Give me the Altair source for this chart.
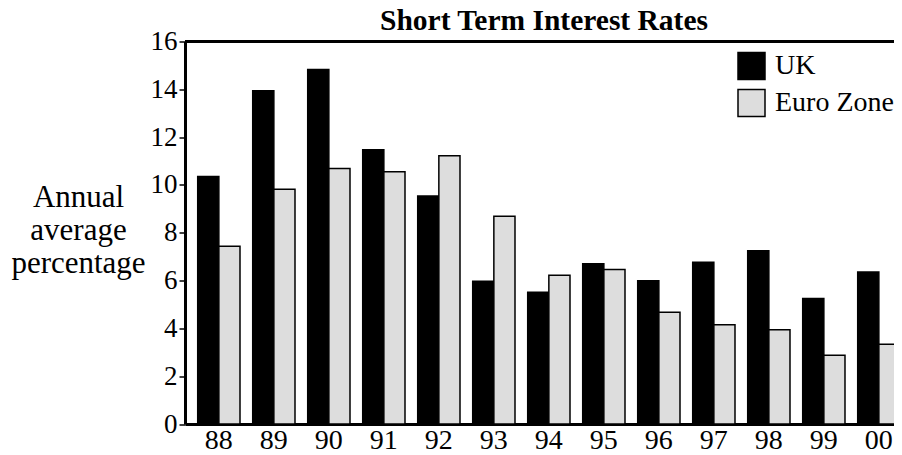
import altair as alt
import pandas as pd

years = ["88", "89", "90", "91", "92", "93", "94", "95", "96", "97", "98", "99", "00"]
uk = [10.35, 13.94, 14.83, 11.47, 9.54, 5.97, 5.51, 6.70, 5.99, 6.77, 7.25, 5.25, 6.36]
euro = [7.44, 9.82, 10.69, 10.55, 11.22, 8.69, 6.22, 6.46, 4.67, 4.15, 3.94, 2.88, 3.34]
series = ["UK", "Euro Zone"]
y_ticks = [0, 2, 4, 6, 8, 10, 12, 14, 16]
title_text = ["Short Term Interest Rates"]

rows = []
for i, yr in enumerate(years):
    rows.append({"year": yr, "series": "UK", "value": uk[i]})
    rows.append({"year": yr, "series": "Euro Zone", "value": euro[i]})
df = pd.DataFrame(rows)

W = 709
H = 382.5
FONT = "Liberation Serif"

bars = alt.Chart(df).mark_bar(stroke="black", strokeWidth=1.5, clip=True).encode(
    x=alt.X(
        "year:N",
        sort=years,
        scale=alt.Scale(range=[0, 727.7], paddingInner=0.231, paddingOuter=0.231),
        axis=alt.Axis(
            title=None, labelAngle=0, labelFontSize=28, labelFont=FONT,
            labelColor="black", ticks=False, domainWidth=3, domainColor="black",
            labelPadding=2,
        ),
    ),
    xOffset=alt.XOffset("series:N", sort=series, scale=alt.Scale(paddingInner=0, paddingOuter=0)),
    y=alt.Y(
        "value:Q",
        scale=alt.Scale(domain=[0, 16], nice=False, zero=True),
        axis=alt.Axis(
            values=y_ticks, title=["Annual", "average", "percentage"],
            labelFontSize=27, labelFont=FONT, labelColor="black", labelPadding=2,
            tickSize=6, tickWidth=1.5, tickColor="black",
            domainWidth=3, domainColor="black",
            titleAngle=0, titleAlign="center", titleBaseline="alphabetic",
            titleX=-107, titleY=164.5, titleFontSize=31, titleFont=FONT,
            titleFontWeight="normal", titleLineHeight=33, titleColor="black",
        ),
    ),
    color=alt.Color(
        "series:N",
        sort=series,
        scale=alt.Scale(domain=series, range=["#000000", "#dddddd"]),
        legend=alt.Legend(
            title=None, orient="none", legendX=552, legendY=10,
            symbolType="square", symbolSize=729, symbolStrokeColor="black",
            symbolStrokeWidth=1.5, symbolOpacity=1,
            labelFontSize=28, labelFont=FONT, labelColor="black",
            labelOffset=9, rowPadding=4,
        ),
    ),
)

top = alt.Chart(pd.DataFrame({"a": [0]})).mark_rule(color="black", strokeWidth=3).encode(
    x=alt.value(0), x2=alt.value(W), y=alt.value(0)
)

title = alt.Chart(pd.DataFrame({"t": title_text})).mark_text(
    font=FONT, fontSize=29.5, fontWeight="bold", color="black",
    align="center", baseline="alphabetic",
).encode(text="t:N", x=alt.value(359), y=alt.value(-11.5))

chart = alt.layer(bars, top, title).properties(
    width=W,
    height=H,
    autosize=alt.AutoSizeParams(type="none"),
    padding={"left": 177, "top": 33.5, "right": 0, "bottom": 36},
).configure_view(stroke=None).configure_axis(grid=False)

chart.save("out.html", embed_options={"renderer": "svg", "actions": False})
